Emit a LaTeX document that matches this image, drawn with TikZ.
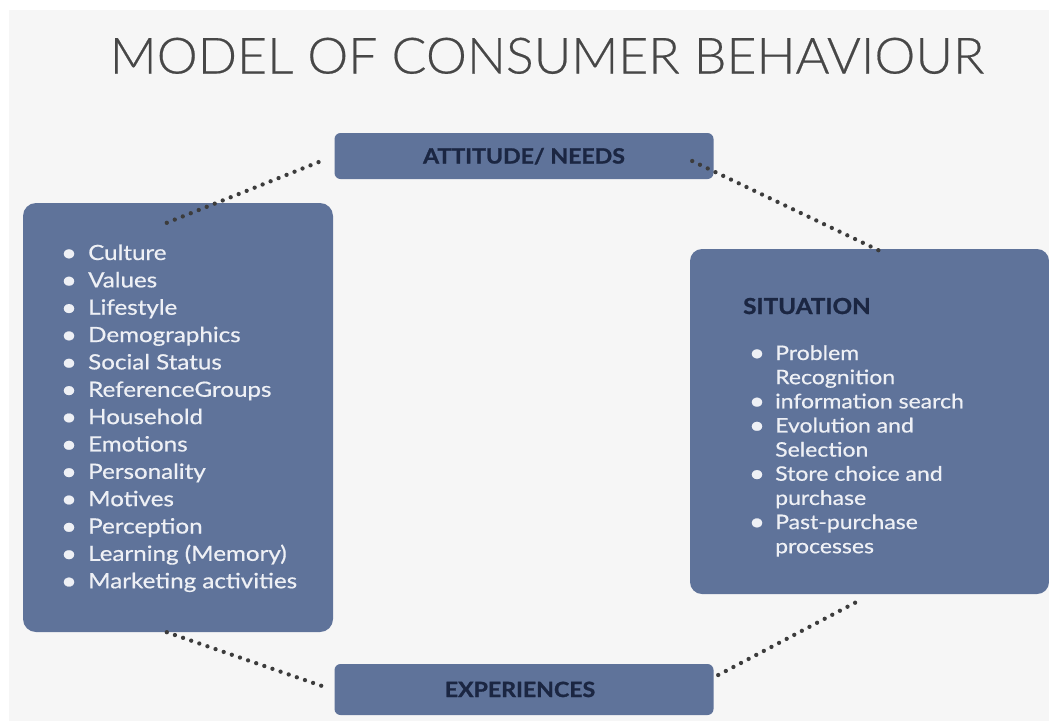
\documentclass[tikz,border=0pt]{standalone}
\usepackage{fontspec}
\setmainfont{Lato}
\newfontfamily\titlefont{Lato Light}[FakeStretch=1.035, FakeBold=0.4]
\newfontfamily\itemfont{Lato}[FakeStretch=1.15, FakeBold=0.6]
\newfontfamily\headfont{Lato}[FakeStretch=1.1, FakeBold=1.2]
\usetikzlibrary{calc}

\definecolor{boxfill}{HTML}{5F739A}
\definecolor{pagebg}{HTML}{F6F6F6}
\definecolor{heading}{HTML}{1B2642}
\definecolor{dotgray}{HTML}{3C3C3C}
\definecolor{titlegray}{HTML}{474747}
\definecolor{itemtext}{HTML}{EEF0F5}

\begin{document}
\begin{tikzpicture}[x=1pt,y=-1pt,
  panel/.style={fill=boxfill, draw=none, inner sep=0pt},
  headlabel/.style={text=heading, inner sep=0pt, font=\headfont\bfseries\fontsize{21}{21}\selectfont},
  itemlabel/.style={text=itemtext, inner sep=0pt, anchor=base west, font=\itemfont\fontsize{21}{21}\selectfont},
  sitlabel/.style={itemlabel, font=\itemfont\fontsize{20}{20}\selectfont},
  bulletmark/.style={text=itemtext, inner sep=0pt, anchor=base, font=\itemfont\fontsize{24}{24}\selectfont},
  dotline/.style={draw=dotgray, line width=4.3pt, line cap=round, dash pattern=on 0pt off 8.6pt}
]
\useasboundingbox (0,0) rectangle (1049,721);
\fill[white] (0,0) rectangle (1049,721);
\fill[pagebg] (9,10) rectangle (1049,721);

% title
\node[text=titlegray, inner sep=0pt, anchor=base, font=\titlefont\fontsize{50}{50}\selectfont]
  (title) at (547,73.5) {MODEL OF CONSUMER BEHAVIOUR};

% panels
\node[panel, rounded corners=6pt, minimum width=379pt, minimum height=46pt] (att) at (524,156) {};
\node[panel, rounded corners=13pt, minimum width=310pt, minimum height=429pt] (left) at (178,417.5) {};
\node[panel, rounded corners=12pt, minimum width=359pt, minimum height=345pt] (sit) at (869.5,421.5) {};
\node[panel, rounded corners=6pt, minimum width=379pt, minimum height=51pt] (exp) at (524,689.5) {};

% panel headings
\node[headlabel, anchor=base] (attlbl) at (524,163.5) {ATTITUDE/ NEEDS};
\node[headlabel, anchor=base] (explbl) at (520,697) {EXPERIENCES};
\node[headlabel, anchor=base west, font=\headfont\bfseries\fontsize{22}{22}\selectfont] (sitlbl) at (743,314) {SITUATION};

% influences list
\foreach \t [count=\i from 0] in {Culture, Values, Lifestyle, Demographics, Social Status,
    ReferenceGroups, Household, Emotions, Personality, Motives, Perception,
    Learning (Memory), Marketing activities} {
  \node[bulletmark] (lb\i) at (69,261+27.35*\i) {•};
  \node[itemlabel] (lt\i) at (88,260+27.35*\i) {\t};
}

% decision process list
\foreach \b/\t [count=\i from 0] in {1/Problem, 0/Recognition, 1/information search,
    1/Evolution and, 0/Selection, 1/Store choice and, 0/purchase,
    1/Past-purchase, 0/processes} {
  \ifnum\b=1
    \node[bulletmark] (rb\i) at (757,361+24.15*\i) {•};
  \fi
  \node[sitlabel] (rt\i) at (775,360+24.15*\i) {\t};
}

% connector ends
\coordinate (lefttop) at ($(left.north west)+(144,20)$);
\coordinate (attin)   at ($(att.west)+(-8,3)$);
\coordinate (attout)  at ($(att.east)+(-21.5,5)$);
\coordinate (sittop)  at ($(sit.north west)+(194,4)$);
\coordinate (leftbot) at ($(left.south west)+(144,0)$);
\coordinate (expin)   at ($(exp.west)+(-6.5,-1.5)$);
\coordinate (expout)  at ($(exp.east)+(4.5,-14.5)$);
\coordinate (sitbot)  at ($(sit.south west)+(171,5.5)$);

% dotted links
\draw[dotline] (lefttop) -- (attin);
\draw[dotline] (attout) -- (sittop);
\draw[dotline] (leftbot) -- (expin);
\draw[dotline] (expout) -- (sitbot);
\end{tikzpicture}
\end{document}
